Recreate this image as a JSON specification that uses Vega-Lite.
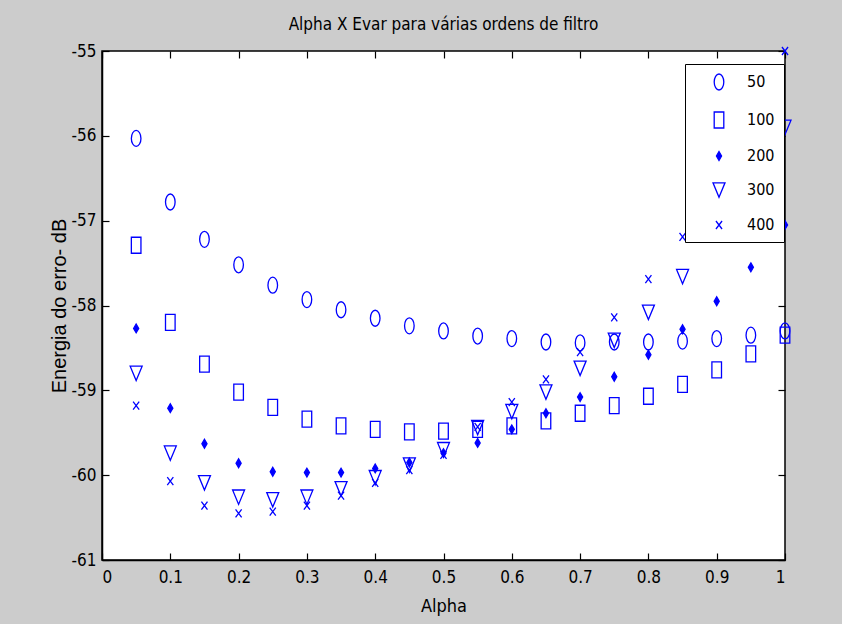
{
  "$schema": "https://vega.github.io/schema/vega-lite/v6.json",
  "autosize": {"type": "none"},
  "padding": {"left": 102, "top": 51, "right": 57, "bottom": 64},
  "width": 683,
  "height": 509,
  "background": "#cccccc",
  "title": {
    "text": "Alpha X Evar para várias ordens de filtro",
    "font": "Liberation Sans Narrow, DejaVu Sans Condensed, sans-serif",
    "fontSize": 17,
    "fontWeight": "normal",
    "color": "#000000",
    "anchor": "middle",
    "offset": 8
  },
  "config": {
    "view": {"stroke": "#000000", "strokeWidth": 1.5, "fill": "#ffffff"},
    "axis": {
      "grid": false,
      "zindex": 1,
      "domainColor": "#000000",
      "domainWidth": 1.5,
      "tickColor": "#000000",
      "tickWidth": 1.2,
      "tickSize": 7,
      "labelFont": "Liberation Sans Narrow, DejaVu Sans Condensed, sans-serif",
      "labelFontSize": 17,
      "labelColor": "#000000",
      "titleColor": "#000000",
      "titleFontWeight": "normal"
    }
  },
  "data": {"values": [
    {"alpha": 0.05, "ordem": "50", "e": -56.03}, {"alpha": 0.1, "ordem": "50", "e": -56.78}, {"alpha": 0.15, "ordem": "50", "e": -57.22}, {"alpha": 0.2, "ordem": "50", "e": -57.52}, {"alpha": 0.25, "ordem": "50", "e": -57.76}, {"alpha": 0.3, "ordem": "50", "e": -57.93}, {"alpha": 0.35, "ordem": "50", "e": -58.05}, {"alpha": 0.4, "ordem": "50", "e": -58.15}, {"alpha": 0.45, "ordem": "50", "e": -58.24}, {"alpha": 0.5, "ordem": "50", "e": -58.3}, {"alpha": 0.55, "ordem": "50", "e": -58.36}, {"alpha": 0.6, "ordem": "50", "e": -58.39}, {"alpha": 0.65, "ordem": "50", "e": -58.43}, {"alpha": 0.7, "ordem": "50", "e": -58.44}, {"alpha": 0.75, "ordem": "50", "e": -58.43}, {"alpha": 0.8, "ordem": "50", "e": -58.43}, {"alpha": 0.85, "ordem": "50", "e": -58.42}, {"alpha": 0.9, "ordem": "50", "e": -58.39}, {"alpha": 0.95, "ordem": "50", "e": -58.35}, {"alpha": 1.0, "ordem": "50", "e": -58.3},
    {"alpha": 0.05, "ordem": "100", "e": -57.29}, {"alpha": 0.1, "ordem": "100", "e": -58.2}, {"alpha": 0.15, "ordem": "100", "e": -58.69}, {"alpha": 0.2, "ordem": "100", "e": -59.02}, {"alpha": 0.25, "ordem": "100", "e": -59.2}, {"alpha": 0.3, "ordem": "100", "e": -59.34}, {"alpha": 0.35, "ordem": "100", "e": -59.42}, {"alpha": 0.4, "ordem": "100", "e": -59.46}, {"alpha": 0.45, "ordem": "100", "e": -59.49}, {"alpha": 0.5, "ordem": "100", "e": -59.48}, {"alpha": 0.55, "ordem": "100", "e": -59.46}, {"alpha": 0.6, "ordem": "100", "e": -59.42}, {"alpha": 0.65, "ordem": "100", "e": -59.36}, {"alpha": 0.7, "ordem": "100", "e": -59.27}, {"alpha": 0.75, "ordem": "100", "e": -59.18}, {"alpha": 0.8, "ordem": "100", "e": -59.07}, {"alpha": 0.85, "ordem": "100", "e": -58.93}, {"alpha": 0.9, "ordem": "100", "e": -58.76}, {"alpha": 0.95, "ordem": "100", "e": -58.57}, {"alpha": 1.0, "ordem": "100", "e": -58.35},
    {"alpha": 0.05, "ordem": "200", "e": -58.27}, {"alpha": 0.1, "ordem": "200", "e": -59.21}, {"alpha": 0.15, "ordem": "200", "e": -59.63}, {"alpha": 0.2, "ordem": "200", "e": -59.86}, {"alpha": 0.25, "ordem": "200", "e": -59.96}, {"alpha": 0.3, "ordem": "200", "e": -59.97}, {"alpha": 0.35, "ordem": "200", "e": -59.97}, {"alpha": 0.4, "ordem": "200", "e": -59.92}, {"alpha": 0.45, "ordem": "200", "e": -59.85}, {"alpha": 0.5, "ordem": "200", "e": -59.74}, {"alpha": 0.55, "ordem": "200", "e": -59.62}, {"alpha": 0.6, "ordem": "200", "e": -59.46}, {"alpha": 0.65, "ordem": "200", "e": -59.27}, {"alpha": 0.7, "ordem": "200", "e": -59.08}, {"alpha": 0.75, "ordem": "200", "e": -58.84}, {"alpha": 0.8, "ordem": "200", "e": -58.58}, {"alpha": 0.85, "ordem": "200", "e": -58.28}, {"alpha": 0.9, "ordem": "200", "e": -57.95}, {"alpha": 0.95, "ordem": "200", "e": -57.55}, {"alpha": 1.0, "ordem": "200", "e": -57.05},
    {"alpha": 0.05, "ordem": "300", "e": -58.8}, {"alpha": 0.1, "ordem": "300", "e": -59.74}, {"alpha": 0.15, "ordem": "300", "e": -60.09}, {"alpha": 0.2, "ordem": "300", "e": -60.26}, {"alpha": 0.25, "ordem": "300", "e": -60.29}, {"alpha": 0.3, "ordem": "300", "e": -60.26}, {"alpha": 0.35, "ordem": "300", "e": -60.16}, {"alpha": 0.4, "ordem": "300", "e": -60.03}, {"alpha": 0.45, "ordem": "300", "e": -59.88}, {"alpha": 0.5, "ordem": "300", "e": -59.7}, {"alpha": 0.55, "ordem": "300", "e": -59.44}, {"alpha": 0.6, "ordem": "300", "e": -59.25}, {"alpha": 0.65, "ordem": "300", "e": -59.02}, {"alpha": 0.7, "ordem": "300", "e": -58.74}, {"alpha": 0.75, "ordem": "300", "e": -58.41}, {"alpha": 0.8, "ordem": "300", "e": -58.08}, {"alpha": 0.85, "ordem": "300", "e": -57.66}, {"alpha": 0.9, "ordem": "300", "e": -57.15}, {"alpha": 0.95, "ordem": "300", "e": -56.57}, {"alpha": 1.0, "ordem": "300", "e": -55.9},
    {"alpha": 0.05, "ordem": "400", "e": -59.18}, {"alpha": 0.1, "ordem": "400", "e": -60.07}, {"alpha": 0.15, "ordem": "400", "e": -60.36}, {"alpha": 0.2, "ordem": "400", "e": -60.45}, {"alpha": 0.25, "ordem": "400", "e": -60.43}, {"alpha": 0.3, "ordem": "400", "e": -60.36}, {"alpha": 0.35, "ordem": "400", "e": -60.24}, {"alpha": 0.4, "ordem": "400", "e": -60.09}, {"alpha": 0.45, "ordem": "400", "e": -59.94}, {"alpha": 0.5, "ordem": "400", "e": -59.76}, {"alpha": 0.55, "ordem": "400", "e": -59.43}, {"alpha": 0.6, "ordem": "400", "e": -59.14}, {"alpha": 0.65, "ordem": "400", "e": -58.87}, {"alpha": 0.7, "ordem": "400", "e": -58.55}, {"alpha": 0.75, "ordem": "400", "e": -58.14}, {"alpha": 0.8, "ordem": "400", "e": -57.69}, {"alpha": 0.85, "ordem": "400", "e": -57.19}, {"alpha": 0.9, "ordem": "400", "e": -56.6}, {"alpha": 0.95, "ordem": "400", "e": -55.87}, {"alpha": 1.0, "ordem": "400", "e": -55.0}
  ]},
  "layer": [
    {
      "mark": {"type": "point", "filled": false, "strokeWidth": 1.3, "size": 256, "opacity": 1},
      "encoding": {
        "x": {
          "field": "alpha", "type": "quantitative",
          "scale": {"domain": [0, 1], "nice": false, "zero": false},
          "axis": {
            "orient": "bottom",
            "ticks": false,
            "values": [0, 0.1, 0.2, 0.3, 0.4, 0.5, 0.6, 0.7, 0.8, 0.9, 1],
            "labelExpr": "'' + datum.value",
            "labelPadding": 9,
            "title": "Alpha",
            "titleFont": "Liberation Sans Narrow, DejaVu Sans Condensed, sans-serif",
            "titleFontSize": 18,
            "titlePadding": 12
          }
        },
        "y": {
          "field": "e", "type": "quantitative",
          "scale": {"domain": [-61, -55], "nice": false, "zero": false},
          "axis": {
            "orient": "left",
            "ticks": false,
            "values": [-61, -60, -59, -58, -57, -56, -55],
            "labelExpr": "'' + datum.value",
            "labelPadding": 6,
            "title": "Energia do erro- dB",
            "titleFont": "Liberation Sans, Arial, sans-serif",
            "titleFontSize": 20,
            "titlePadding": 2
          }
        },
        "shape": {
          "field": "ordem", "type": "nominal",
          "scale": {
            "domain": ["50", "100", "200", "300", "400"],
            "range": [
              "M0,-1A0.6,1,0,1,1,0,1A0.6,1,0,1,1,0,-1Z",
              "M-0.6,-1H0.6V1H-0.6Z",
              "M0,-0.55L0.32,0L0,0.55L-0.32,0Z",
              "M-0.75,-0.9H0.75L0,0.9Z",
              "M-0.38,-0.5L0.38,0.5M-0.38,0.5L0.38,-0.5"
            ]
          },
          "legend": {
            "orient": "none",
            "legendX": 583,
            "legendY": 13,
            "title": null,
            "fillColor": "#ffffff",
            "strokeColor": "#000000",
            "padding": 9,
            "symbolOffset": 16,
            "labelOffset": 19,
            "rowPadding": 16,
            "symbolSize": 256,
            "symbolStrokeWidth": 1.3,
            "labelFont": "Liberation Sans Narrow, DejaVu Sans Condensed, sans-serif",
            "labelFontSize": 16,
            "labelColor": "#000000"
          }
        },
        "stroke": {
          "field": "ordem", "type": "nominal",
          "scale": {"domain": ["50", "100", "200", "300", "400"], "range": ["#0000ff", "#0000ff", "#0000ff", "#0000ff", "#0000ff"]},
          "legend": {"orient": "none", "legendX": 583, "legendY": 13, "title": null}
        },
        "fill": {
          "field": "ordem", "type": "nominal",
          "scale": {"domain": ["50", "100", "200", "300", "400"], "range": ["transparent", "transparent", "#0000ff", "transparent", "transparent"]},
          "legend": {"orient": "none", "legendX": 583, "legendY": 13, "title": null}
        }
      }
    },
    {
      "mark": {"type": "point", "opacity": 0},
      "encoding": {
        "x": {
          "field": "alpha", "type": "quantitative",
          "axis": {"orient": "top", "offset": -509, "domain": false, "values": [0, 0.1, 0.2, 0.3, 0.4, 0.5, 0.6, 0.7, 0.8, 0.9, 1], "labels": false, "title": null}
        },
        "y": {
          "field": "e", "type": "quantitative",
          "axis": {"orient": "right", "offset": -683, "domain": false, "values": [-61, -60, -59, -58, -57, -56, -55], "labels": false, "title": null}
        }
      }
    },
    {
      "mark": {"type": "point", "opacity": 0},
      "encoding": {
        "x": {
          "field": "alpha", "type": "quantitative",
          "axis": {"orient": "bottom", "offset": -509, "domain": false, "values": [0, 0.1, 0.2, 0.3, 0.4, 0.5, 0.6, 0.7, 0.8, 0.9, 1], "labels": false, "title": null}
        },
        "y": {
          "field": "e", "type": "quantitative",
          "axis": {"orient": "left", "offset": -683, "domain": false, "values": [-61, -60, -59, -58, -57, -56, -55], "labels": false, "title": null}
        }
      }
    }
  ],
  "resolve": {"axis": {"x": "independent", "y": "independent"}}
}
